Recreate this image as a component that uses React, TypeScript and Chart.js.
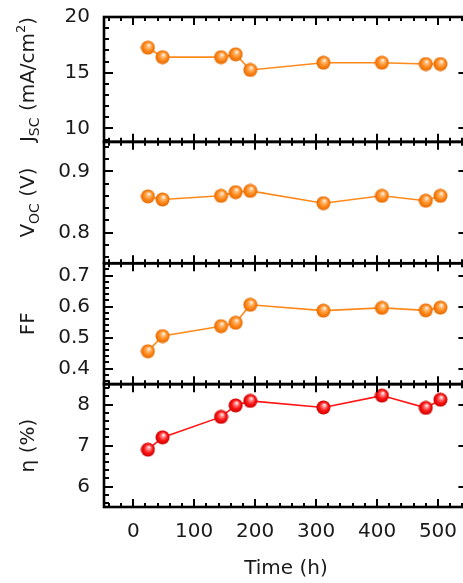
import React, { useEffect, useRef } from "react";
import { Chart, registerables } from "chart.js";
Chart.register(...registerables);

// ---- data ----
const times = [24, 48, 144, 168, 192, 312, 408, 480, 504];
const jscValues = [17.25, 16.4, 16.4, 16.65, 15.25, 15.9, 15.9, 15.78, 15.78];
const vocValues = [0.859, 0.854, 0.86, 0.866, 0.868, 0.848, 0.86, 0.852, 0.86];
const ffValues = [0.456, 0.505, 0.537, 0.548, 0.606, 0.587, 0.596, 0.588, 0.597];
const etaValues = [6.9, 7.2, 7.7, 7.98, 8.09, 7.93, 8.22, 7.92, 8.12];

const xTickLabels = [0, 100, 200, 300, 400, 500];
const jscTicks = [10, 15, 20];
const vocTicks = [0.8, 0.9];
const ffTicks = [0.4, 0.5, 0.6, 0.7];
const etaTicks = [6, 7, 8];

const FONT = "'DejaVu Sans', sans-serif";
const TEXT = "#1a1a1a";
const ORANGE = "#ff8a1c";
const RED = "#ff1414";

function makeSphere(mid: string, light: string, dark: string) {
  const c = document.createElement("canvas");
  const size = 15;
  c.width = size;
  c.height = size;
  const g = c.getContext("2d")!;
  const cx = size / 2;
  const cy = size / 2;
  const r = 7;
  const grad = g.createRadialGradient(cx + 1.2, cy - 2.6, 0.3, cx, cy, r);
  grad.addColorStop(0, "#ffffff");
  grad.addColorStop(0.22, light);
  grad.addColorStop(0.6, mid);
  grad.addColorStop(1, dark);
  g.fillStyle = grad;
  g.beginPath();
  g.arc(cx, cy, r, 0, Math.PI * 2);
  g.fill();
  return c;
}

type Part = { t: string; size: number; dy: number };

function drawRich(ctx: CanvasRenderingContext2D, parts: Part[], startX: number) {
  let x = startX;
  for (const p of parts) {
    ctx.font = `${p.size}px ${FONT}`;
    ctx.fillText(p.t, x, p.dy);
    x += ctx.measureText(p.t).width;
  }
}
function richWidth(ctx: CanvasRenderingContext2D, parts: Part[]) {
  let w = 0;
  for (const p of parts) {
    ctx.font = `${p.size}px ${FONT}`;
    w += ctx.measureText(p.t).width;
  }
  return w;
}

const panelDefs = [
  { id: "yJ", minor: 1 },
  { id: "yV", minor: 0.02 },
  { id: "yF", minor: 0.02 },
  { id: "yE", minor: 0.2 },
];

const titles: Part[][] = [
  [
    { t: "J", size: 20, dy: 0 },
    { t: "SC", size: 14, dy: 5 },
    { t: " (mA/cm", size: 20, dy: 0 },
    { t: "2", size: 13, dy: -9 },
    { t: ")", size: 20, dy: 0 },
  ],
  [
    { t: "V", size: 20, dy: 0 },
    { t: "OC", size: 14, dy: 5 },
    { t: " (V)", size: 20, dy: 0 },
  ],
  [{ t: "FF", size: 20, dy: 0 }],
  [{ t: "η (%)", size: 20, dy: 0 }],
];

const framePlugin = {
  id: "frame",
  afterDraw(chart: any) {
    const ctx: CanvasRenderingContext2D = chart.ctx;
    const xs = chart.scales.x;
    const left = chart.chartArea.left;
    const right = chart.chartArea.right;
    ctx.save();
    ctx.strokeStyle = "#000";
    ctx.lineCap = "butt";
    panelDefs.forEach((pd, idx) => {
      const s = chart.scales[pd.id];
      const top = s.top;
      const bottom = s.bottom;
      const majors: number[] = s.ticks.map((t: any) => t.value);
      // x ticks
      ctx.lineWidth = 2;
      ctx.beginPath();
      for (let v = -40; v <= 540; v += 20) {
        const px = Math.round(xs.getPixelForValue(v));
        const len = v % 100 === 0 ? 8 : 4;
        ctx.moveTo(px, top);
        ctx.lineTo(px, top + len);
        ctx.moveTo(px, bottom);
        ctx.lineTo(px, bottom - len);
      }
      // y ticks
      const lo = Math.ceil(s.min / pd.minor - 1e-6);
      const hi = Math.floor(s.max / pd.minor + 1e-6);
      for (let i = lo; i <= hi; i++) {
        const v = i * pd.minor;
        const isMajor = majors.some((m) => Math.abs(m - v) < pd.minor / 10);
        const py = Math.round(s.getPixelForValue(v));
        const len = isMajor ? 9 : 5;
        ctx.moveTo(left, py);
        ctx.lineTo(left + len, py);
        if (isMajor) {
          ctx.moveTo(right, py);
          ctx.lineTo(right - 7, py);
        }
      }
      ctx.stroke();
      // frame
      ctx.lineWidth = 2.6;
      ctx.strokeRect(left, top, right - left, bottom - top);

      // y tick labels
      ctx.fillStyle = TEXT;
      ctx.font = `20px ${FONT}`;
      ctx.textAlign = "right";
      ctx.textBaseline = "middle";
      for (const m of majors) {
        ctx.fillText(String(m), left - 14, s.getPixelForValue(m));
      }

      // title
      ctx.textBaseline = "alphabetic";
      ctx.textAlign = "left";
      const cy = (top + bottom) / 2;
      ctx.save();
      ctx.translate(34, cy);
      ctx.rotate(-Math.PI / 2);
      const w = richWidth(ctx, titles[idx]);
      drawRich(ctx, titles[idx], -w / 2);
      ctx.restore();
    });
    // x tick labels
    ctx.fillStyle = TEXT;
    ctx.font = `20px ${FONT}`;
    ctx.textAlign = "center";
    ctx.textBaseline = "middle";
    for (const t of xs.ticks) {
      ctx.fillText(String(t.value), xs.getPixelForValue(t.value), 532);
    }
    // x title
    ctx.fillText("Time (h)", 286, 569);
    ctx.restore();
  },
};

function yScale(ticks: number[], min: number, max: number, weight: number, stackWeight: number) {
  return {
    type: "linear",
    position: "left",
    stack: "panels",
    stackWeight,
    weight,
    min,
    max,
    grid: { display: false, drawTicks: false },
    border: { display: false },
    ticks: { display: false },
    afterBuildTicks: (s: any) => {
      s.ticks = ticks.map((v) => ({ value: v }));
    },
    afterFit: (s: any) => {
      s.width = 104;
    },
  };
}

export default function App() {
  const ref = useRef<HTMLCanvasElement>(null);
  useEffect(() => {
    const orangeBall = makeSphere(ORANGE, "#ffc080", "#e56800");
    const redBall = makeSphere(RED, "#ff9090", "#c80000");
    const mk = (label: string, data: number[], axis: string, color: string, ball: HTMLCanvasElement) => ({
      label,
      data: times.map((t, i) => ({ x: t, y: data[i] })),
      yAxisID: axis,
      xAxisID: "x",
      borderColor: color,
      backgroundColor: color,
      borderWidth: 1.6,
      pointStyle: ball,
      pointRadius: 7,
      tension: 0,
    });
    const chart = new Chart(ref.current!, {
      type: "line",
      data: {
        datasets: [
          mk("Jsc", jscValues, "yJ", ORANGE, orangeBall),
          mk("Voc", vocValues, "yV", ORANGE, orangeBall),
          mk("FF", ffValues, "yF", ORANGE, orangeBall),
          mk("eta", etaValues, "yE", RED, redBall),
        ],
      },
      options: {
        animation: false,
        responsive: false,
        events: [],
        layout: { padding: { top: 17, right: 2.5, left: 0, bottom: 0 } },
        plugins: { legend: { display: false }, tooltip: { enabled: false } },
        scales: {
          x: {
            type: "linear",
            position: "bottom",
            min: -48,
            max: 545,
            grid: { display: false, drawTicks: false },
            border: { display: false },
            ticks: { display: false },
            afterBuildTicks: (s: any) => {
              s.ticks = xTickLabels.map((v) => ({ value: v }));
            },
            afterFit: (s: any) => {
              s.height = 76;
            },
          },
          yJ: yScale(jscTicks, 8.8, 20, 4, 125),
          yV: yScale(vocTicks, 0.75, 0.948, 3, 121.5),
          yF: yScale(ffTicks, 0.35, 0.74, 2, 121),
          yE: yScale(etaTicks, 5.5, 8.5, 1, 123),
        } as any,
      },
      plugins: [framePlugin],
    } as any);
    return () => chart.destroy();
  }, []);
  return (
    <div
      style={{
        position: "fixed",
        left: 0,
        top: 0,
        width: 463,
        height: 583,
        overflow: "hidden",
        background: "#fff",
      }}
    >
      <canvas ref={ref} width={474} height={583} style={{ width: 474, height: 583, display: "block" }} />
    </div>
  );
}
